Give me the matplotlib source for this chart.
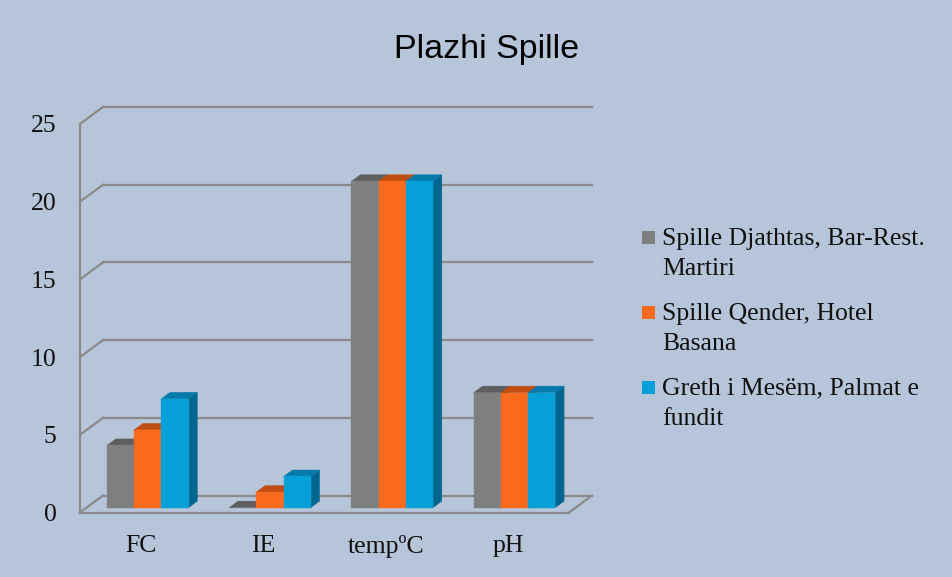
import numpy as np
import matplotlib.pyplot as plt
from matplotlib.patches import Polygon, Rectangle

# ---------------- DATA ----------------
categories = ["FC", "IE", "tempºC", "pH"]
series_names = ["Spille Djathtas, Bar-Rest.\nMartiri",
                "Spille Qender, Hotel\nBasana",
                "Greth i Mesëm, Palmat e\nfundit"]
djathtas = [4, 0, 21, 7.4]
qender = [5, 1, 21, 7.4]
mesem = [7, 2, 21, 7.4]
yticks = [0, 5, 10, 15, 20, 25]
title = "Plazhi Spille"

# ---------------- STYLE ----------------
BG = "#b6c5d9"
GRID = "#8a8a8a"
front_cols = ["#7e7f81", "#f96a1c", "#06a0d9"]
top_cols = ["#5d5e60", "#c04e12", "#0579aa"]
side_cols = ["#55565a", "#b84d16", "#00668f"]
SERIF = "Liberation Serif"
SANS = "Liberation Sans"

W, H = 953, 577
fig = plt.figure(figsize=(W / 100, H / 100), dpi=100, facecolor=BG)

# front plane of the plot box (pixels)
x0, x1, yb, yt = 80, 569, 512.5, 124
ax = fig.add_axes([x0 / W, 1 - yb / H, (x1 - x0) / W, (yb - yt) / H])
ax.set_xlim(-0.5, len(categories) - 0.5)
ax.set_ylim(0, 25)
ax.patch.set_visible(False)
for s in ax.spines.values():
    s.set_visible(False)

# depth of the 3d box in data units
DX = 23 / ((x1 - x0) / len(categories))
DY = 17 / ((yb - yt) / 25)


def proj(x, v, d):
    return (x + d * DX, v + d * DY)


# -------- WALLS / GRID --------
lw = 1.6
xl, xr = -0.5, len(categories) - 0.5
for v in yticks:
    a, b = proj(xl, v, 1), proj(xr, v, 1)
    ax.plot([a[0], b[0]], [a[1], b[1]], color=GRID, lw=lw, clip_on=False, zorder=1)
    a, b = proj(xl, v, 0), proj(xl, v, 1)
    ax.plot([a[0], b[0]], [a[1], b[1]], color=GRID, lw=lw, clip_on=False, zorder=1)
ax.plot([xl, xl], [0, yticks[-1]], color=GRID, lw=lw, clip_on=False, zorder=1)
ax.plot([xl, xr], [0, 0], color=GRID, lw=lw, clip_on=False, zorder=1)
a, b = proj(xr, 0, 0), proj(xr, 0, 1)
ax.plot([a[0], b[0]], [a[1], b[1]], color=GRID, lw=lw, clip_on=False, zorder=1)

# -------- BARS --------
bw = 27.2 / ((x1 - x0) / len(categories))
d0, d1 = 0.29, 0.67
series = [djathtas, qender, mesem]
z = 2
for i in range(len(categories)):
    for k, vals in enumerate(series):
        v = vals[i]
        left = i + (k - 1.5) * bw
        right = left + bw
        side = [proj(right, 0, d0), proj(right, 0, d1), proj(right, v, d1), proj(right, v, d0)]
        top = [proj(left, v, d0), proj(right, v, d0), proj(right, v, d1), proj(left, v, d1)]
        front = [proj(left, 0, d0), proj(right, 0, d0), proj(right, v, d0), proj(left, v, d0)]
        for pts, c in [(side, side_cols[k]), (top, top_cols[k]), (front, front_cols[k])]:
            ax.add_patch(Polygon(pts, closed=True, facecolor=c, edgecolor=c,
                                 lw=0.3, clip_on=False, zorder=z))
            z += 1

# -------- TICKS --------
ax.set_yticks(yticks)
ax.set_xticks(range(len(categories)))
ax.set_xticklabels(categories)
ax.tick_params(axis="both", length=0, labelsize=18.5)
ax.tick_params(axis="y", pad=17)
ax.tick_params(axis="x", pad=16)
for lab in ax.get_xticklabels() + ax.get_yticklabels():
    lab.set_fontfamily(SERIF)
    lab.set_color("#111111")

# -------- TITLE --------
fig.text(487 / W, 1 - 58 / H, title, ha="center", va="baseline",
         fontsize=24.5, family=SANS, color="black")

# -------- LEGEND --------
line_step = 30
for k, name in enumerate(series_names):
    ytop = 231 + 75 * k
    fig.add_artist(Rectangle((642 / W, 1 - (ytop + 12.6) / H), 13.5 / W, 12.6 / H,
                             transform=fig.transFigure, facecolor=front_cols[k],
                             edgecolor="none"))
    # baseline alignment follows the last line of a multi-line text
    n_extra = name.count("\n")
    fig.text(662 / W, 1 - (ytop + 14 + n_extra * line_step) / H, name,
             ha="left", va="baseline", fontsize=18.5, family=SERIF,
             color="#111111", linespacing=1.48)

fig.savefig("out.png", dpi=100, facecolor=BG)
